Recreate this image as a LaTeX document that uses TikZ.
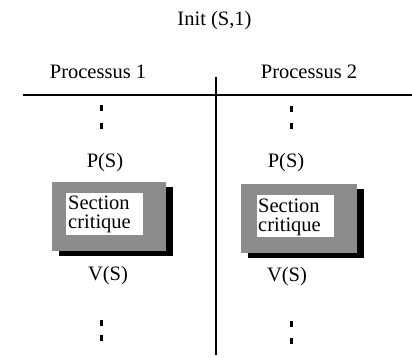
\documentclass[tikz,border=0pt]{standalone}
\usepackage{fontspec}
\setmainfont{Liberation Serif}
\definecolor{boxgray}{RGB}{140,140,140}
\begin{document}
\begin{tikzpicture}[x=1pt,y=-1pt,
  lbl/.style={font=\fontsize{20.5}{19}\selectfont, inner sep=0pt, anchor=base},
  dotmark/.style={fill=black, draw=none, minimum width=3pt, minimum height=6pt, inner sep=0pt},
  graybox/.style={fill=boxgray, draw=none, inner sep=0pt},
  shadowbox/.style={fill=black, draw=none, inner sep=0pt},
  whitebox/.style={fill=white, draw=none, inner sep=0pt},
  sectxt/.style={font=\fontsize{20.5}{19}\selectfont, inner sep=0pt, anchor=base west, text width=80pt, align=left}
]
\useasboundingbox (0,0) rectangle (412,358);

% title
\node[lbl] (init) at (214.5,26) {Init (S,1)};

% headers
\node[lbl] (p1) at (98,79) {Processus 1};
\node[lbl] (p2) at (309,79) {Processus 2};

% table lines
\coordinate (hl) at (23,95);
\coordinate (hr) at (412,95);
\coordinate (vt) at (216,77);
\coordinate (vb) at (216,355);
\draw[line width=1.8pt] (hl) -- (hr);
\draw[line width=1.3pt] (vt) -- (vb);

% top dots
\node[dotmark] (d1a) at (101.5,108) {};
\node[dotmark] (d1b) at (101.5,126) {};
\node[dotmark] (d2a) at (291.5,109) {};
\node[dotmark] (d2b) at (291.5,126) {};

% P(S)
\node[lbl] (ps1) at (105,168) {P(S)};
\node[lbl] (ps2) at (286,168) {P(S)};

% critical section boxes, column 1
\node[shadowbox, minimum width=114pt, minimum height=69pt] (sh1) at (116,221.5) {};
\node[graybox, minimum width=114pt, minimum height=69pt] (g1) at (109,216.5) {};
\node[whitebox, minimum width=77pt, minimum height=42pt] (w1) at (104.5,214) {};
\node[sectxt] (s1) at (68,210) {Section\\critique};

% critical section boxes, column 2
\node[shadowbox, minimum width=116pt, minimum height=69pt] (sh2) at (306,223.5) {};
\node[graybox, minimum width=116pt, minimum height=69pt] (g2) at (299,218.5) {};
\node[whitebox, minimum width=77pt, minimum height=42pt] (w2) at (295.5,216) {};
\node[sectxt] (s2) at (258,212) {Section\\critique};

% V(S)
\node[lbl] (vs1) at (108,280) {V(S)};
\node[lbl] (vs2) at (287,281) {V(S)};

% bottom dots
\node[dotmark] (d1c) at (101.5,323) {};
\node[dotmark] (d1d) at (101.5,338) {};
\node[dotmark] (d2c) at (291.5,324) {};
\node[dotmark] (d2d) at (291.5,341) {};
\end{tikzpicture}
\end{document}
